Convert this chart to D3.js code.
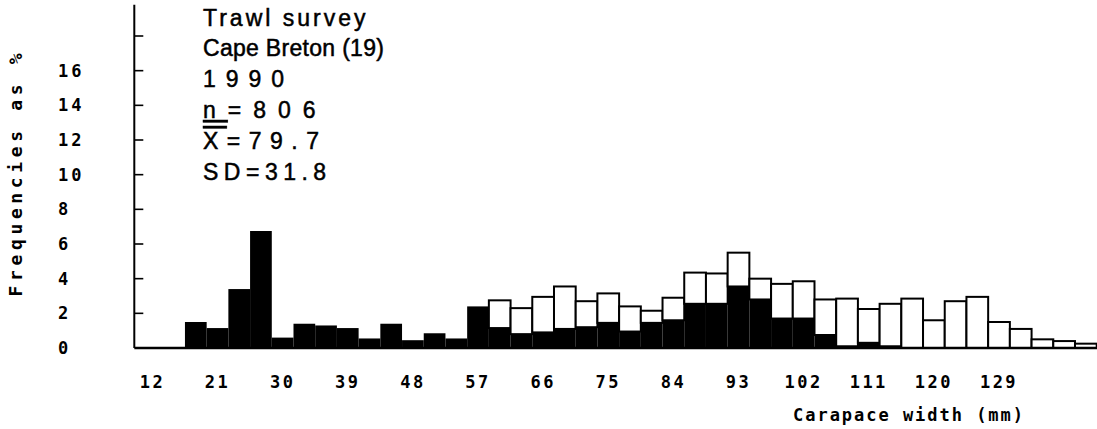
<!DOCTYPE html>
<html>
<head>
<meta charset="utf-8">
<script src="https://cdn.jsdelivr.net/npm/d3@7"></script>
<style>
  body { margin: 0; background: #fff; }
  svg { display: block; }
</style>
</head>
<body>
<svg id="chart" width="1097" height="429"></svg>
<script>
// Carapace-width classes, mm (class centres, 3 mm wide)
const widthClasses = [18, 21, 24, 27, 30, 33, 36, 39, 42, 45, 48, 51, 54, 57,
  60, 63, 66, 69, 72, 75, 78, 81, 84, 87, 90, 93, 96, 99, 102, 105, 108, 111,
  114, 117, 120, 123, 126, 129, 132, 135, 138, 141];

// Percent of the sample in the dark (lower) group
const darkPct = [1.5, 1.15, 3.4, 6.75, 0.6, 1.4, 1.3, 1.15, 0.55, 1.4, 0.45, 0.85, 0.55, 2.4,
  1.15, 0.8, 0.9, 1.1, 1.2, 1.45, 0.95, 1.45, 1.6, 2.55, 2.55, 3.55, 2.8, 1.7, 1.7, 0.75, 0.1, 0.3,
  0.1, 0, 0, 0, 0, 0, 0, 0, 0, 0];

// Percent of the sample in the open (upper) group, stacked on the dark one
const openPct = [0, 0, 0, 0, 0, 0, 0, 0, 0, 0, 0, 0, 0, 0,
  1.6, 1.5, 2.05, 2.45, 1.5, 1.7, 1.45, 0.7, 1.3, 1.8, 1.75, 1.95, 1.2, 2.0, 2.15, 2.05, 2.75, 1.95,
  2.45, 2.85, 1.6, 2.7, 2.95, 1.5, 1.1, 0.5, 0.4, 0.25];

const xTickValues = [12, 21, 30, 39, 48, 57, 66, 75, 84, 93, 102, 111, 120, 129];
const yTickValues = [2, 4, 6, 8, 10, 12, 14, 16, 18];
const yLabelValues = [0, 2, 4, 6, 8, 10, 12, 14, 16];

const infoLines = ["Trawl survey", "Cape Breton (19)", "1990", "n=806", "X=79.7", "SD=31.8"];

const binWidth = 3;

const svg = d3.select("#chart");
svg.append("rect").attr("width", 1097).attr("height", 429).attr("fill", "#fff");

const x = d3.scaleLinear().domain([9.5, 142.5]).range([134.3, 1096.7]);
const y = d3.scaleLinear().domain([0, 18]).range([348, 36]);

const bins = widthClasses.map((c, i) => ({
  c, dark: darkPct[i], open: openPct[i]
}));

// dark part of each class
svg.append("g").selectAll("rect.dark")
  .data(bins.filter(d => d.dark > 0))
  .join("rect")
  .attr("class", "dark")
  .attr("x", d => x(d.c - binWidth / 2))
  .attr("width", d => x(d.c + binWidth / 2) - x(d.c - binWidth / 2))
  .attr("y", d => y(d.dark))
  .attr("height", d => y(0) - y(d.dark))
  .attr("fill", "#000");

// open part stacked above it
svg.append("g").selectAll("rect.open")
  .data(bins.filter(d => d.open > 0))
  .join("rect")
  .attr("class", "open")
  .attr("x", d => x(d.c - binWidth / 2))
  .attr("width", d => x(d.c + binWidth / 2) - x(d.c - binWidth / 2))
  .attr("y", d => y(d.dark + d.open))
  .attr("height", d => y(d.dark) - y(d.dark + d.open))
  .attr("fill", "#fff")
  .attr("stroke", "#000")
  .attr("stroke-width", 2);

// baseline
svg.append("line")
  .attr("x1", x(9.5)).attr("x2", x(142.5) + 2)
  .attr("y1", y(0)).attr("y2", y(0))
  .attr("stroke", "#000").attr("stroke-width", 2.5);

// y axis with inward ticks
const yAxisG = svg.append("g").attr("transform", `translate(${x(9.5)},0)`);
yAxisG.append("line")
  .attr("x1", 0).attr("x2", 0)
  .attr("y1", y(0)).attr("y2", y(19.8))
  .attr("stroke", "#000").attr("stroke-width", 2);
yAxisG.selectAll("line.tick")
  .data(yTickValues)
  .join("line")
  .attr("class", "tick")
  .attr("x1", 0).attr("x2", 9)
  .attr("y1", d => y(d)).attr("y2", d => y(d))
  .attr("stroke", "#000").attr("stroke-width", 1.6);

const monoFont = "'DejaVu Sans Mono', 'Liberation Mono', monospace";

// y tick labels
svg.append("g").selectAll("text")
  .data(yLabelValues)
  .join("text")
  .attr("x", 58)
  .attr("y", d => y(d))
  .attr("dy", "0.36em")
  .attr("font-family", monoFont)
  .attr("font-size", 17)
  .attr("font-weight", "bold")
  .attr("letter-spacing", 3)
  .attr("fill", "#000")
  .text(d => d);

// x tick labels
svg.append("g").selectAll("text")
  .data(xTickValues)
  .join("text")
  .attr("x", d => x(d))
  .attr("y", 382)
  .attr("dy", "0.36em")
  .attr("text-anchor", "middle")
  .attr("font-family", monoFont)
  .attr("font-size", 17)
  .attr("font-weight", "bold")
  .attr("letter-spacing", 2.5)
  .attr("fill", "#000")
  .text(d => d);

// axis titles
svg.append("text")
  .attr("x", 793).attr("y", 415).attr("dy", "0.36em")
  .attr("font-family", monoFont).attr("font-size", 17).attr("font-weight", "bold")
  .attr("textLength", 230).attr("lengthAdjust", "spacing")
  .text("Carapace width (mm)");

svg.append("text")
  .attr("transform", "translate(16,175) rotate(-90)")
  .attr("text-anchor", "middle").attr("dy", "0.36em")
  .attr("font-family", monoFont).attr("font-size", 18).attr("font-weight", "bold")
  .attr("textLength", 243).attr("lengthAdjust", "spacing")
  .text("Frequencies as %");

// survey summary block
const info = svg.append("g")
  .attr("font-family", "'Liberation Sans', Arial, sans-serif")
  .attr("font-size", 23)
  .attr("fill", "#000")
  .attr("stroke", "#000")
  .attr("stroke-width", 0.5);
const lineBaselines = [26, 56, 87, 118, 149, 180];
const lineSpacing = [3, 0.3, 10, 12, 8.5, 5.5];
infoLines.forEach((t, i) => {
  const txt = info.append("text")
    .attr("x", 203).attr("y", lineBaselines[i])
    .attr("letter-spacing", lineSpacing[i]);
  if (t.startsWith("n=")) {
    txt.append("tspan").style("text-decoration", "underline").text("n");
    txt.append("tspan").text(t.slice(1));
  } else if (t.startsWith("X=")) {
    txt.append("tspan").style("text-decoration", "overline").text("X");
    txt.append("tspan").text(t.slice(1));
  } else {
    txt.text(t);
  }
});
</script>
</body>
</html>
